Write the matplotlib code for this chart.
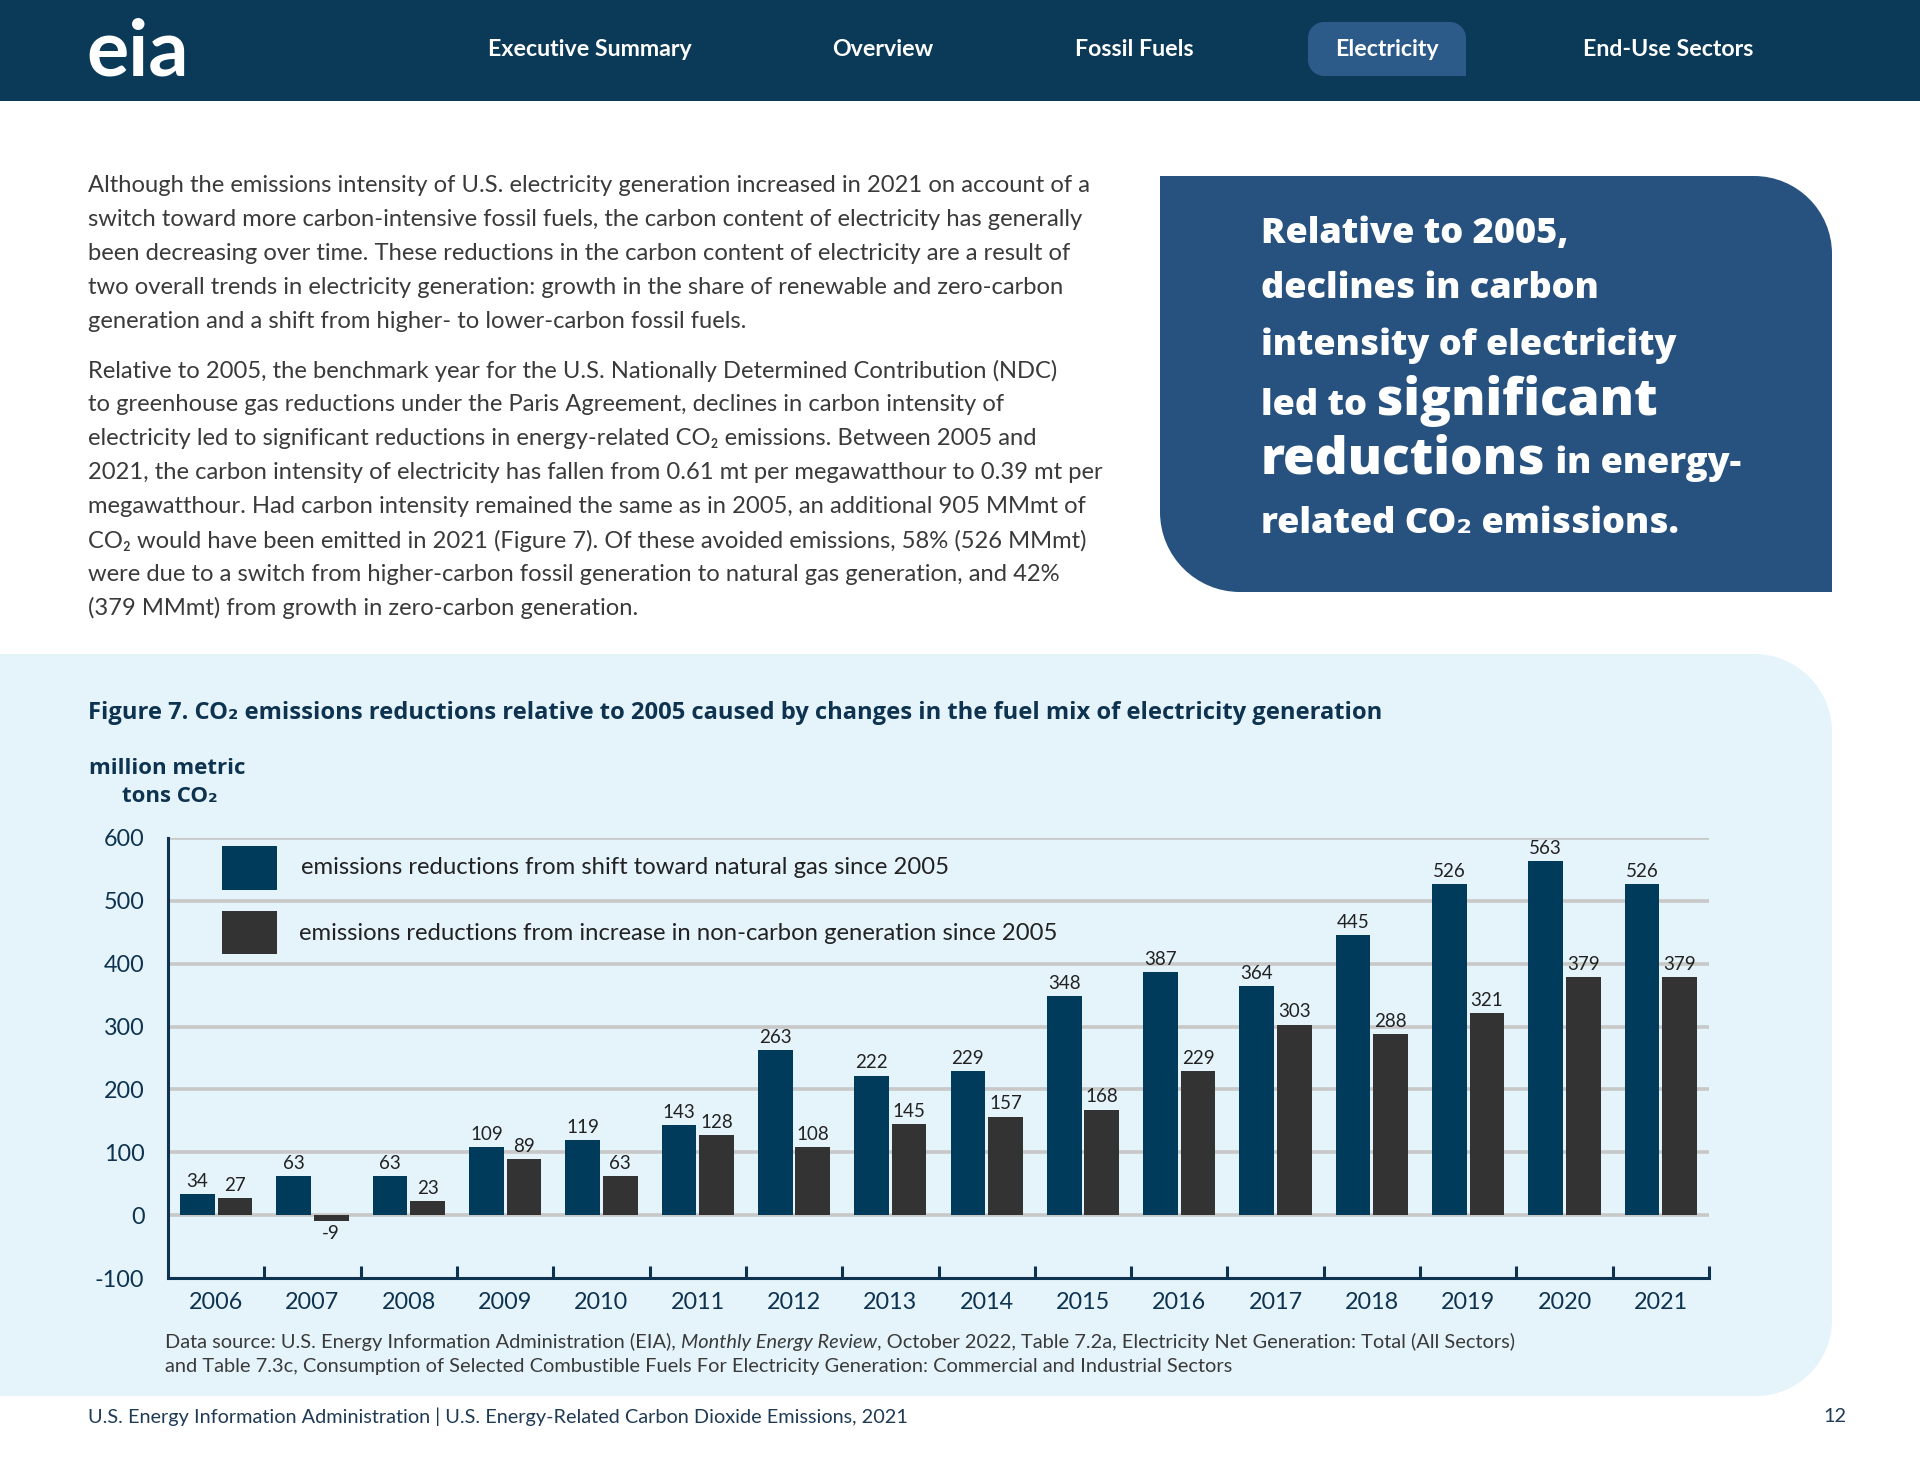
import matplotlib
matplotlib.use('Agg')
import matplotlib.pyplot as plt
from matplotlib.path import Path
from matplotlib.patches import PathPatch, Rectangle

plt.rcParams['font.family'] = ['Lato', 'DejaVu Sans']
plt.rcParams['axes.unicode_minus'] = False

# chart data (million metric tons CO2)
years = ['2006', '2007', '2008', '2009', '2010', '2011', '2012', '2013',
         '2014', '2015', '2016', '2017', '2018', '2019', '2020', '2021']
gas_shift = [34, 63, 63, 109, 119, 143, 263, 222, 229, 348, 387, 364, 445, 526, 563, 526]
non_carbon = [27, -9, 23, 89, 63, 128, 108, 145, 157, 168, 229, 303, 288, 321, 379, 379]
y_ticks = [-100, 0, 100, 200, 300, 400, 500, 600]
legend_labels = ['emissions reductions from shift toward natural gas since 2005',
                 'emissions reductions from increase in non-carbon generation since 2005']

nav_items = ['Executive Summary', 'Overview', 'Fossil Fuels', 'Electricity', 'End-Use Sectors']
nav_x = [590, 883, 1134, 1387, 1668]

para1 = [
    "Although the emissions intensity of U.S. electricity generation increased in 2021 on account of a",
    "switch toward more carbon-intensive fossil fuels, the carbon content of electricity has generally",
    "been decreasing over time. These reductions in the carbon content of electricity are a result of",
    "two overall trends in electricity generation: growth in the share of renewable and zero-carbon",
    "generation and a shift from higher- to lower-carbon fossil fuels.",
]
para2 = [
    "Relative to 2005, the benchmark year for the U.S. Nationally Determined Contribution (NDC)",
    "to greenhouse gas reductions under the Paris Agreement, declines in carbon intensity of",
    "electricity led to significant reductions in energy-related CO\u2082 emissions. Between 2005 and",
    "2021, the carbon intensity of electricity has fallen from 0.61 mt per megawatthour to 0.39 mt per",
    "megawatthour. Had carbon intensity remained the same as in 2005, an additional 905 MMmt of",
    "CO\u2082 would have been emitted in 2021 (Figure 7). Of these avoided emissions, 58% (526 MMmt)",
    "were due to a switch from higher-carbon fossil generation to natural gas generation, and 42%",
    "(379 MMmt) from growth in zero-carbon generation.",
]

HDR = '#0b3a58'
TAB = '#2c5a89'
CALLOUT = '#27527f'
PANEL = '#e5f4fb'
BLUE = '#003b5c'
GRAY = '#333333'
GRID = '#c8c8c8'
NAVY = '#0e3350'
BODY = '#3a3a3a'
WIDE = ['Open Sans', 'DejaVu Sans']

W, H = 1920, 1484
fig = plt.figure(figsize=(W / 100, H / 100), dpi=100)
page = fig.add_axes([0, 0, 1, 1])
page.set_xlim(0, W)
page.set_ylim(H, 0)
page.axis('off')


def box_path(x0, y0, x1, y1, tl=0, tr=0, br=0, bl=0):
    # page coords, y grows downward; cubic corners
    k = 0.5523
    v = [(x0 + tl, y0)]
    c = [Path.MOVETO]

    def seg(p):
        v.append(p)
        c.append(Path.LINETO)

    def arc(p1, p2, p3):
        v.extend([p1, p2, p3])
        c.extend([Path.CURVE4] * 3)

    seg((x1 - tr, y0))
    if tr:
        arc((x1 - tr + k * tr, y0), (x1, y0 + tr - k * tr), (x1, y0 + tr))
    seg((x1, y1 - br))
    if br:
        arc((x1, y1 - br + k * br), (x1 - br + k * br, y1), (x1 - br, y1))
    seg((x0 + bl, y1))
    if bl:
        arc((x0 + bl - k * bl, y1), (x0, y1 - bl + k * bl), (x0, y1 - bl))
    seg((x0, y0 + tl))
    if tl:
        arc((x0, y0 + tl - k * tl), (x0 + tl - k * tl, y0), (x0 + tl, y0))
    v.append((x0 + tl, y0))
    c.append(Path.CLOSEPOLY)
    return Path(v, c)


renderer = fig.canvas.get_renderer()


def text_w(s, **kw):
    t = page.text(0, 0, '|' + s + '|', **kw)
    t2 = page.text(0, 0, '||', **kw)
    w = t.get_window_extent(renderer).width - t2.get_window_extent(renderer).width
    t.remove()
    t2.remove()
    return w


def runs(x, y, parts, **kw):
    for s, props in parts:
        opts = dict(kw)
        opts.update(props)
        page.text(x, y, s, va='baseline', **opts)
        x += text_w(s, **opts)


# header bar
page.add_patch(Rectangle((0, 0), W, 101, color=HDR, lw=0))
page.text(86, 75, 'eia', color='white', fontsize=57, fontweight='bold', va='baseline')
page.add_patch(PathPatch(box_path(1308, 22, 1466, 76, tl=16, tr=16, br=0, bl=16), color=TAB, lw=0))
for name, x in zip(nav_items, nav_x):
    page.text(x, 49, name, color='white', fontsize=16.7, fontweight='bold', ha='center', va='center')

# body text
for i, line in enumerate(para1):
    page.text(88, 186 + i * 34.0, line, color=BODY, fontsize=17.1, va='center')
for i, line in enumerate(para2):
    page.text(88, 371 + i * 33.9, line, color=BODY, fontsize=17.1, va='center')

# call-out box
page.add_patch(PathPatch(box_path(1160, 176, 1832, 592, tl=0, tr=78, br=0, bl=80), color=CALLOUT, lw=0))
sm = dict(fontsize=26, fontweight=800, color='white', family=WIDE)
bg = dict(fontsize=37, fontweight=800, color='white', family=WIDE)
cx = 1261
runs(cx, 243, [('Relative to 2005,', sm)])
runs(cx, 298, [('declines in carbon', sm)])
runs(cx, 355, [('intensity of electricity', sm)])
runs(cx, 415, [('led to ', sm), ('significant', bg)])
runs(cx, 473, [('reductions', bg), (' in energy-', sm)])
runs(cx, 533, [('related CO\u2082 emissions.', sm)])

# chart panel
page.add_patch(PathPatch(box_path(-200, 654, 1832, 1396, tr=78, br=76), color=PANEL, lw=0))
page.text(88, 713, 'Figure 7. CO\u2082 emissions reductions relative to 2005 caused by changes in the fuel mix of electricity generation',
          color=NAVY, fontsize=17.1, fontweight='bold', family=WIDE, va='center')
page.text(167, 769, 'million metric', color=NAVY, fontsize=16, fontweight='bold', family=WIDE, ha='center', va='center')
page.text(170, 797, 'tons CO\u2082', color=NAVY, fontsize=16, fontweight='bold', family=WIDE, ha='center', va='center')

src = dict(fontsize=14.4, color=BODY)
runs(165, 1348, [('Data source: U.S. Energy Information Administration (EIA), ', {}),
                 ('Monthly Energy Review', dict(style='italic')),
                 (', October 2022, Table 7.2a, Electricity Net Generation: Total (All Sectors)', {})], **src)
page.text(165, 1372, 'and Table 7.3c, Consumption of Selected Combustible Fuels For Electricity Generation: '
          'Commercial and Industrial Sectors', va='baseline', **src)

# footer
page.text(88, 1417, 'U.S. Energy Information Administration | U.S. Energy-Related Carbon Dioxide Emissions, 2021',
          color='#1f3a55', fontsize=14.3, va='center')
page.text(1846, 1417, '12', color='#1f3a55', fontsize=14.3, ha='right', va='center')

# chart axes
ax_l, ax_r, ax_t, ax_b = 168, 1709, 837.6, 1278.4
ax = fig.add_axes([ax_l / W, 1 - ax_b / H, (ax_r - ax_l) / W, (ax_b - ax_t) / H])
ax.patch.set_alpha(0)
x = list(range(len(years)))
for v in y_ticks[1:]:
    ax.axhline(v, color=GRID, lw=2.6, zorder=0)
w = 0.36
b1 = ax.bar([i - 0.195 for i in x], gas_shift, width=w, color=BLUE, zorder=2)
b2 = ax.bar([i + 0.195 for i in x], non_carbon, width=w, color=GRAY, zorder=2)
ax.bar_label(b1, padding=3, fontsize=13.5, color='#222222')
ax.bar_label(b2, padding=3, fontsize=13.5, color='#222222')

ax.set_xlim(-0.5, len(years) - 0.5)
ax.set_ylim(-100, 600)
ax.set_yticks(y_ticks)
ax.tick_params(axis='y', length=0, pad=17, labelsize=16.8, labelcolor=NAVY)
ax.set_xticks([i + 0.5 for i in x])
ax.set_xticklabels([])
ax.set_xticks(x, minor=True)
ax.set_xticklabels(years, minor=True)
ax.tick_params(axis='x', which='major', direction='in', length=9, width=2.2, color=NAVY)
ax.tick_params(axis='x', which='minor', length=0, pad=10, labelsize=16.8, labelcolor=NAVY)
for s in ['top', 'right']:
    ax.spines[s].set_visible(False)
for s in ['left', 'bottom']:
    ax.spines[s].set_color(NAVY)
    ax.spines[s].set_linewidth(2.2)

# legend drawn on top
top = fig.add_axes([0, 0, 1, 1], zorder=5)
top.set_xlim(0, W)
top.set_ylim(H, 0)
top.axis('off')
top.add_patch(Rectangle((222, 846), 55, 44, color=BLUE, lw=0))
top.add_patch(Rectangle((222, 911), 55, 43, color=GRAY, lw=0))
top.text(301, 868, legend_labels[0], color='#222222', fontsize=17.2, va='center')
top.text(299, 934, legend_labels[1], color='#222222', fontsize=17.2, va='center')

fig.savefig('out.png', dpi=100)
